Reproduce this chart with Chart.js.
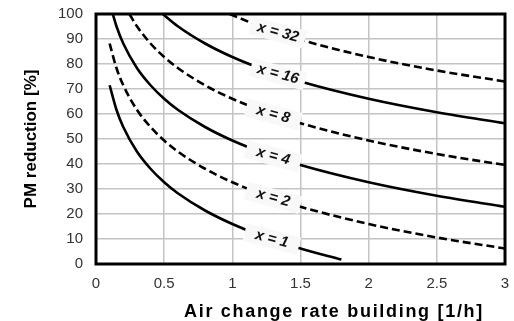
<!DOCTYPE html>
<html><head><meta charset="utf-8">
<script src="https://cdn.jsdelivr.net/npm/chart.js@4/dist/chart.umd.min.js"></script>
<style>html,body{margin:0;padding:0;background:#fff}#wrap{width:514px;height:321px;position:relative}</style>
</head><body><div id="wrap"><canvas id="c" width="514" height="321"></canvas></div>
<script>
// ---- data ----
const xTickValues = [0, 0.5, 1, 1.5, 2, 2.5, 3];
const yTickValues = [0, 10, 20, 30, 40, 50, 60, 70, 80, 90, 100];
const seriesNames = ['x = 1', 'x = 2', 'x = 4', 'x = 8', 'x = 16', 'x = 32'];

const acrX1 = [0.1, 0.15, 0.2, 0.3, 0.4, 0.5, 0.6, 0.8, 1.0, 1.2, 1.5, 1.8];
const pmX1  = [71.5, 61.7, 54.8, 45.0, 38.1, 32.7, 28.3, 21.4, 16.0, 11.6, 6.2, 1.8];

const acrX2 = [0.1, 0.15, 0.2, 0.3, 0.4, 0.5, 0.6, 0.8, 1.0, 1.25, 1.5, 2.0, 2.5, 3.0];
const pmX2  = [88.2, 78.4, 71.5, 61.7, 54.8, 49.4, 45.0, 38.1, 32.7, 27.3, 22.9, 16.0, 10.6, 6.2];

const acrX4 = [0.123, 0.15, 0.2, 0.3, 0.4, 0.5, 0.6, 0.8, 1.0, 1.25, 1.5, 2.0, 2.5, 3.0];
const pmX4  = [100, 95.1, 88.2, 78.4, 71.5, 66.1, 61.7, 54.8, 49.4, 44.0, 39.6, 32.7, 27.3, 22.9];

const acrX8 = [0.245, 0.3, 0.4, 0.5, 0.6, 0.8, 1.0, 1.25, 1.5, 2.0, 2.5, 3.0];
const pmX8  = [100, 95.1, 88.2, 82.8, 78.4, 71.5, 66.1, 60.7, 56.3, 49.4, 44.0, 39.6];

const acrX16 = [0.49, 0.6, 0.8, 1.0, 1.25, 1.5, 2.0, 2.5, 3.0];
const pmX16  = [100, 95.1, 88.2, 82.8, 77.4, 73.0, 66.1, 60.7, 56.3];

const acrX32 = [0.98, 1.25, 1.5, 2.0, 2.5, 3.0];
const pmX32  = [100, 94.1, 89.7, 82.8, 77.4, 73.0];

const labelAcr = [1.29, 1.3, 1.3, 1.3, 1.335, 1.335];
const dashed = [false, true, false, true, false, true];

const yTitle = 'PM reduction [%]';
const xTitle = 'Air change rate building [1/h]';

// ---- build ----
const acrAll = [acrX1, acrX2, acrX4, acrX8, acrX16, acrX32];
const pmAll = [pmX1, pmX2, pmX4, pmX8, pmX16, pmX32];
const FONT = "'Liberation Sans', Arial, sans-serif";
const LABEL_ANGLE = 15 * Math.PI / 180;

const datasets = seriesNames.map((name, i) => ({
  label: name,
  data: acrAll[i].map((a, j) => ({x: a, y: pmAll[i][j]})),
  borderColor: '#000',
  borderWidth: 2.6,
  borderDash: dashed[i] ? [8, 4] : [],
  pointRadius: 0,
  fill: false,
  cubicInterpolationMode: 'monotone'
}));

function interp(data, xv) {
  for (let k = 0; k < data.length - 1; k++) {
    if (xv >= data[k].x && xv <= data[k + 1].x) {
      const t = (xv - data[k].x) / (data[k + 1].x - data[k].x);
      return data[k].y + t * (data[k + 1].y - data[k].y);
    }
  }
  return data[data.length - 1].y;
}

const labelPlugin = {
  id: 'curveLabels',
  afterDatasetsDraw(chart) {
    const ctx = chart.ctx;
    const xs = chart.scales.x, ys = chart.scales.y;
    chart.data.datasets.forEach((ds, i) => {
      const a = labelAcr[i];
      const px = xs.getPixelForValue(a);
      const py = ys.getPixelForValue(interp(ds.data, a));
      ctx.save();
      ctx.translate(px, py);
      ctx.rotate(LABEL_ANGLE);
      ctx.fillStyle = '#f8f8f8';
      ctx.fillRect(-28, -9, 56, 18);
      ctx.fillStyle = '#111';
      ctx.font = 'italic bold 15px ' + FONT;
      ctx.textAlign = 'center';
      ctx.textBaseline = 'middle';
      ctx.fillText(ds.label, 0, 0);
      ctx.restore();
    });
  },
  afterDraw(chart) {
    const ctx = chart.ctx;
    const ca = chart.chartArea;
    ctx.save();
    ctx.strokeStyle = '#000';
    ctx.lineWidth = 3;
    ctx.strokeRect(ca.left, ca.top, ca.right - ca.left, ca.bottom - ca.top);
    ctx.fillStyle = '#000';
    ctx.font = 'bold 18px ' + FONT;
    ctx.letterSpacing = '1.7px';
    ctx.textAlign = 'center';
    ctx.textBaseline = 'middle';
    ctx.fillText(xTitle, 334, 312);
    ctx.restore();
  }
};

new Chart(document.getElementById('c'), {
  type: 'line',
  data: {datasets},
  plugins: [labelPlugin],
  options: {
    responsive: false,
    devicePixelRatio: 1,
    animation: false,
    layout: {padding: {left: 0, right: 9, top: 14, bottom: 0}},
    plugins: {legend: {display: false}, tooltip: {enabled: false}},
    scales: {
      x: {
        type: 'linear', min: 0, max: 3,
        afterBuildTicks: s => { s.ticks = xTickValues.map(v => ({value: v})); },
        afterFit: s => { s.height = 57; s.paddingLeft = 0; s.paddingRight = 0; },
        grid: {color: '#c4c4c4', lineWidth: 1.5, drawTicks: false},
        border: {display: false},
        ticks: {padding: 11, color: '#333', font: {family: FONT, size: 15}, maxRotation: 0,
                callback: v => String(v)}
      },
      y: {
        type: 'linear', min: 0, max: 100,
        afterBuildTicks: s => { s.ticks = yTickValues.map(v => ({value: v})); },
        afterFit: s => { s.width = 96; s.paddingTop = 0; s.paddingBottom = 0; },
        grid: {color: '#c4c4c4', lineWidth: 1.5, drawTicks: false},
        border: {display: false},
        ticks: {padding: 13, color: '#333', font: {family: FONT, size: 15}},
        title: {display: true, text: yTitle, color: '#000', font: {family: FONT, size: 17, weight: 'bold'}, padding: {top: 21, bottom: 0}}
      }
    }
  }
});
</script>
</body></html>
